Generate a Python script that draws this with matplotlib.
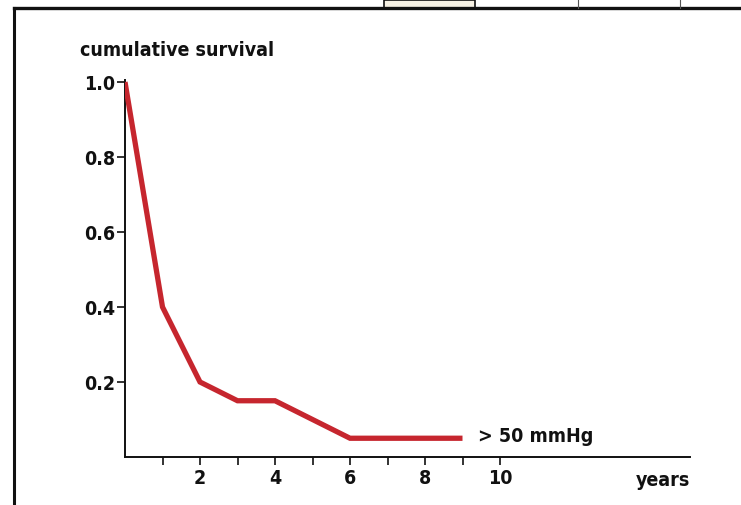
import matplotlib.pyplot as plt
from matplotlib.lines import Line2D
from matplotlib.patches import Rectangle

years = [0, 1, 2, 3, 4, 6, 9]
survival = [1.0, 0.40, 0.20, 0.15, 0.15, 0.05, 0.05]
xticks_major = [2, 4, 6, 8, 10]
xticks_minor = [1, 3, 5, 7, 9]
yticks = [0.2, 0.4, 0.6, 0.8, 1.0]
ytick_labels = ['0.2', '0.4', '0.6', '0.8', '1.0']
series_label = '> 50 mmHg'

plt.rcParams['font.family'] = ['DejaVu Sans']
font = dict(fontweight='bold', fontstretch='condensed', color='#111111')

W, H = 741, 505
fig = plt.figure(figsize=(W / 100, H / 100), dpi=100)
ax = fig.add_axes([125 / W, 1 - 457 / H, 565 / W, (457 - 80) / H])

ax.plot(years, survival, color='#c6262e', linewidth=3.8,
        solid_joinstyle='miter', solid_capstyle='butt', zorder=3)

ax.set_xlim(0, 565 / 37.5)
ax.set_ylim(0, 1.0 + 2 / 375)
for side in ['top', 'right']:
    ax.spines[side].set_visible(False)
for side in ['left', 'bottom']:
    ax.spines[side].set_linewidth(1.4)
    ax.spines[side].set_color('#111111')

ax.set_xticks(xticks_major)
ax.set_xticks(xticks_minor, minor=True)
ax.set_xticklabels([str(v) for v in xticks_major], fontsize=14, **font)
ax.set_yticks(yticks)
ax.set_yticklabels(ytick_labels, fontsize=14, **font)
ax.tick_params(axis='x', which='both', direction='out', length=6, width=1.2,
               pad=3, color='#111111')
ax.tick_params(axis='y', direction='out', length=6, width=1.2, pad=1,
               color='#111111')

ax.text(9.4, 0.055, series_label, fontsize=14, va='center', ha='left', **font)

fig.text(80 / W, 1 - 50 / H, 'cumulative survival', fontsize=14,
         va='center', ha='left', **font)
fig.text(690 / W, 1 - 480 / H, 'years', fontsize=14, va='center',
         ha='right', **font)

# scanned page frame
fig.add_artist(Line2D([14 / W, 14 / W], [0, 1 - 8 / H], color='#111111',
                      linewidth=2.2, transform=fig.transFigure))
fig.add_artist(Line2D([14 / W, 1], [1 - 8 / H, 1 - 8 / H], color='#111111',
                      linewidth=2.4, transform=fig.transFigure))
fig.add_artist(Rectangle((384 / W, 1 - 8 / H), 91 / W, 8 / H,
                         facecolor='#f6f1e4', edgecolor='#111111',
                         linewidth=1.2, transform=fig.transFigure))
for xp in [578, 680]:
    fig.add_artist(Line2D([xp / W, xp / W], [1 - 8 / H, 1], color='#555555',
                          linewidth=0.8, transform=fig.transFigure))

fig.savefig('out.png', dpi=100)
